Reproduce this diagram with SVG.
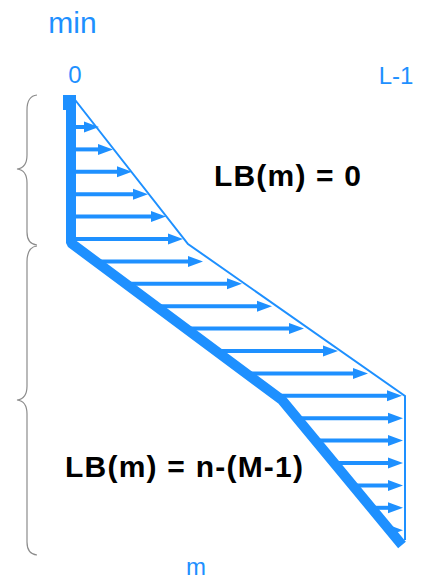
<svg xmlns="http://www.w3.org/2000/svg" width="424" height="579" viewBox="0 0 424 579">
<style>
.lbl{font-family:"Liberation Sans",Arial,sans-serif;fill:#1e90ff;text-anchor:middle}
.eq{font-family:"Liberation Sans",Arial,sans-serif;font-weight:bold;fill:#000;font-size:30px}
.arr{stroke:#1e90ff;stroke-width:4;fill:none;marker-end:url(#ah)}
.brace{fill:none;stroke:#8c8c8c;stroke-width:1.2}
</style>
<defs>
<marker id="ah" markerUnits="userSpaceOnUse" markerWidth="16" markerHeight="12" refX="5" refY="6" orient="auto">
<path d="M0,0.5 L15,6 L0,11.5 z" fill="#1e90ff"/>
</marker>
</defs>
<rect width="424" height="579" fill="#fff"/>
<g id="labels">
<text class="lbl" x="72.5" y="33" font-size="30">min</text>
<text class="lbl" x="75" y="83" font-size="24">0</text>
<text class="lbl" x="396" y="84" font-size="24">L-1</text>
<text class="lbl" x="196" y="575" font-size="24">m</text>
</g>
<g id="braces">
<path class="brace" d="M37,95 Q27,96 27,110 L27,155 Q27,168 17,169 Q27,170 27,183 L27,232 Q27,244 37,245"/>
<path class="brace" d="M37,246 Q27,247 27,262 L27,386 Q27,399 17,400 Q27,401 27,414 L27,542 Q27,554 37,555"/>
</g>
<g id="connectors">
<line class="arr" x1="71" y1="127" x2="89" y2="127"/>
<line class="arr" x1="71" y1="149.4" x2="103" y2="149.4"/>
<line class="arr" x1="71" y1="171.8" x2="122" y2="171.8"/>
<line class="arr" x1="71" y1="194.2" x2="138" y2="194.2"/>
<line class="arr" x1="71" y1="216.6" x2="156" y2="216.6"/>
<line class="arr" x1="71" y1="239" x2="173" y2="239"/>
<line class="arr" x1="96" y1="261.4" x2="193" y2="261.4"/>
<line class="arr" x1="126" y1="283.8" x2="232" y2="283.8"/>
<line class="arr" x1="156" y1="306.2" x2="262" y2="306.2"/>
<line class="arr" x1="186" y1="328.6" x2="294" y2="328.6"/>
<line class="arr" x1="216" y1="351" x2="328" y2="351"/>
<line class="arr" x1="246" y1="373.4" x2="358" y2="373.4"/>
<line class="arr" x1="278" y1="395.8" x2="392" y2="395.8"/>
<line class="arr" x1="297" y1="418.2" x2="393" y2="418.2"/>
<line class="arr" x1="316" y1="440.6" x2="393" y2="440.6"/>
<line class="arr" x1="334" y1="463" x2="393" y2="463"/>
<line class="arr" x1="353" y1="485.4" x2="393" y2="485.4"/>
<line class="arr" x1="371" y1="507.8" x2="393" y2="507.8"/>
<line class="arr" x1="390" y1="530.2" x2="393" y2="530.2"/>
</g>
<g id="bound">
<polyline points="72,96 188,244 405,396 405,540" fill="none" stroke="#1e90ff" stroke-width="2"/>
</g>
<g id="path">
<polyline points="71,95 71,243 282,400 402,545" fill="none" stroke="#1e90ff" stroke-width="10" stroke-linejoin="bevel"/>
<rect x="63" y="95" width="5" height="15" fill="#1e90ff"/>
</g>
<g id="eq1"><text class="eq" x="214" y="186" textLength="147" lengthAdjust="spacing">LB(m) = 0</text></g>
<g id="eq2"><text class="eq" x="65" y="477" textLength="238" lengthAdjust="spacing">LB(m) = n-(M-1)</text></g>
</svg>
